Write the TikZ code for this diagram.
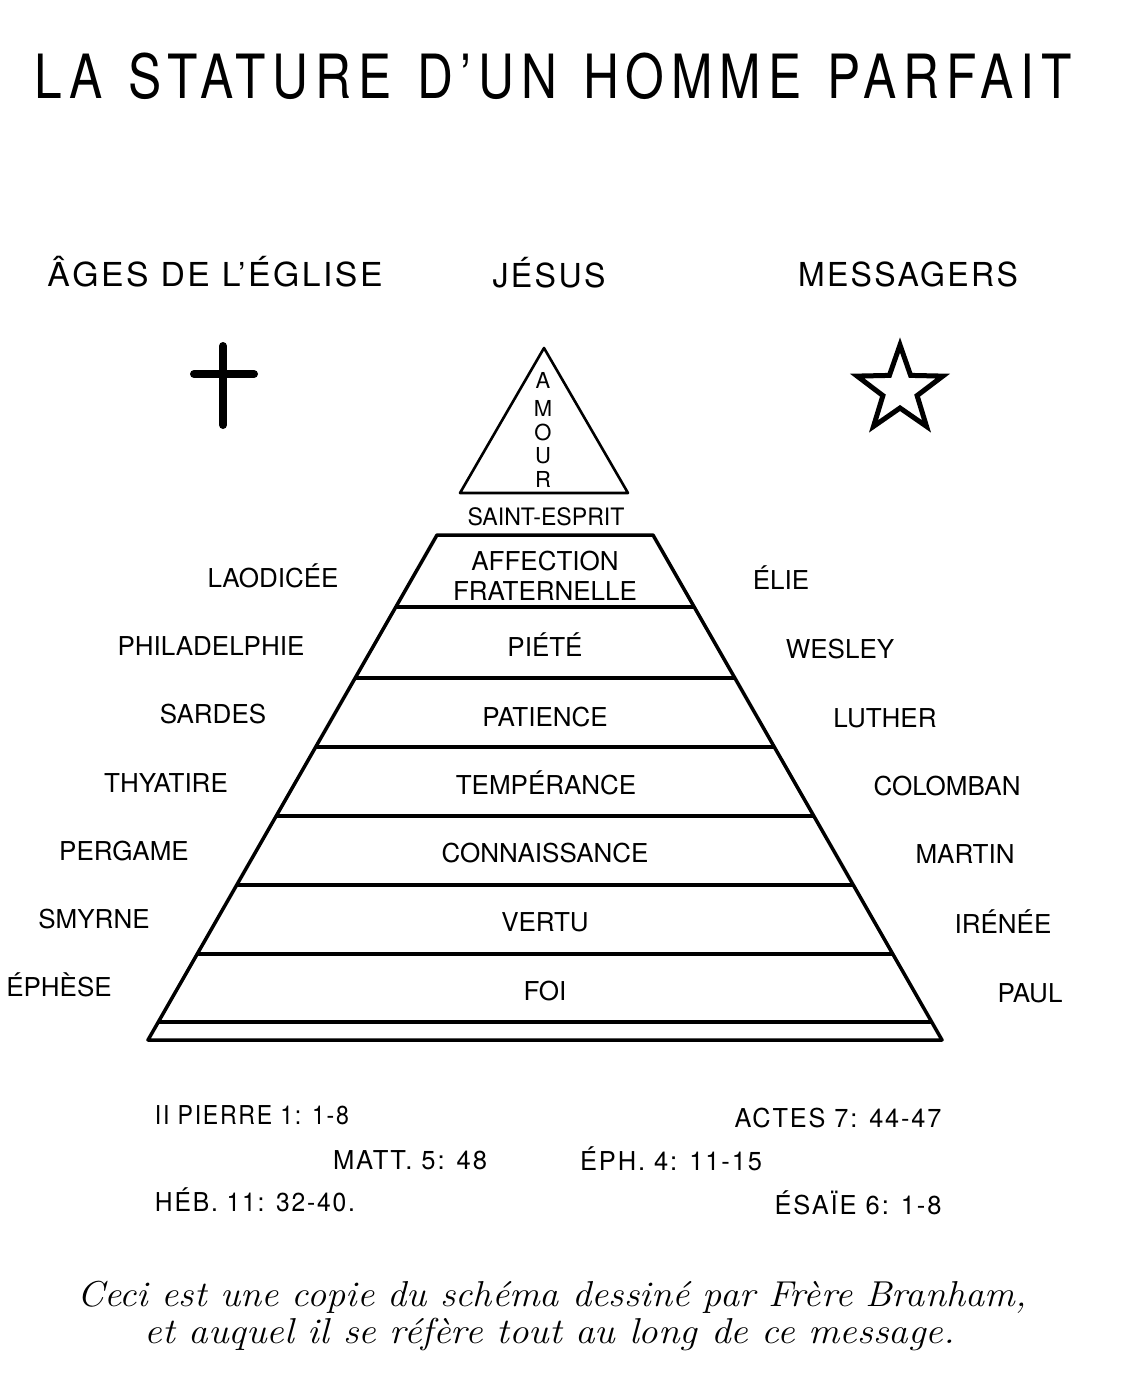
\documentclass[tikz,border=0pt]{standalone}
\usepackage{fontspec}
\usepackage{graphicx}
\usetikzlibrary{calc}
\newfontfamily\helv{TeX Gyre Heros}
\newfontfamily\helvw[LetterSpace=12,FakeStretch=0.86]{TeX Gyre Heros}
\newfontfamily\helvs[LetterSpace=7,FakeStretch=0.94]{TeX Gyre Heros}
\newcommand\fw[2]{\resizebox{#1pt}{\height}{#2}}
\newcommand\wsp{\hspace{0.45em}}
\begin{document}
\begin{tikzpicture}[x=1pt,y=-1pt,line join=round]
\useasboundingbox[fill=white] (0,0) rectangle (1126,1388);
\tikzset{
  txt/.style={anchor=base,inner sep=0pt,font=\helv\fontsize{26}{28}\selectfont},
  reftxt/.style={anchor=base,inner sep=0pt,font=\helvs\fontsize{26}{28}\selectfont},
  head/.style={anchor=base,inner sep=0pt,font=\helvs\fontsize{33}{36}\selectfont},
  amour/.style={anchor=base,inner sep=0pt,font=\helv\fontsize{22}{23}\selectfont},
  capt/.style={anchor=base,inner sep=0pt,font=\itshape\fontsize{36}{40}\selectfont},
  pyr/.style={line width=3.5pt},
  tri/.style={line width=2.6pt},
  crossline/.style={line width=8pt,line cap=round},
  starline/.style={line width=5pt,line join=miter}
}
% title
\node[anchor=base,inner sep=0pt,font=\helvw\fontsize{61}{64}\selectfont] (title) at (553,99) {\fw{1037}{LA\wsp STATURE\wsp D’UN\wsp HOMME\wsp PARFAIT}};
% headers
\node[head] (hage) at (215,287) {\fw{335}{ÂGES DE L’ÉGLISE}};
\node[head] (hjes) at (549,287) {\fw{113}{JÉSUS}};
\node[head] (hmes) at (908,287) {\fw{220}{MESSAGERS}};
% cross
\draw[crossline] (223,346) -- (223,425);
\draw[crossline] (194,374) -- (254,374);
% star
\draw[starline] (900,345) -- (910.6,375.4) -- (942.8,376.1) -- (917.1,395.6) -- (926.5,426.4) -- (900,408) -- (873.5,426.4) -- (882.9,395.6) -- (857.2,376.1) -- (889.4,375.4) -- cycle;
% small triangle
\coordinate (apex) at (544,348);
\coordinate (tbl) at (460,493);
\coordinate (tbr) at (628,493);
\draw[tri] (apex) -- (tbl) -- (tbr) -- cycle;
\node[amour] (a1) at (543,388) {A};
\node[amour] (a2) at (543,416) {M};
\node[amour] (a3) at (543,440) {O};
\node[amour] (a4) at (543,463) {U};
\node[amour] (a5) at (543,487) {R};
\node[txt,font=\helv\fontsize{24}{26}\selectfont] (se) at (546,525) {\fw{157}{SAINT-ESPRIT}};
% pyramid
\coordinate (TL) at (437,535);
\coordinate (TR) at (653,535);
\coordinate (BL) at (148,1040);
\coordinate (BR) at (942,1040);
\draw[pyr] (BL) -- (TL) -- (TR) -- (BR) -- cycle;
\foreach \r in {0.1426,0.2832,0.4198,0.5564,0.6931,0.8297,0.9644}
  \draw[pyr] ($(TL)!\r!(BL)$) -- ($(TR)!\r!(BR)$);
% virtues
\node[txt] (v1a) at (545,570) {AFFECTION};
\node[txt] (v1b) at (545,600) {FRATERNELLE};
\node[txt] (v2) at (545,656) {PIÉTÉ};
\node[txt] (v3) at (545,726) {PATIENCE};
\node[txt] (v4) at (546,794) {TEMPÉRANCE};
\node[txt] (v5) at (545,862) {CONNAISSANCE};
\node[txt] (v6) at (545,931) {VERTU};
\node[txt] (v7) at (545,1000) {FOI};
% church ages
\node[txt] (e7) at (273,587) {LAODICÉE};
\node[txt] (e6) at (211,655) {PHILADELPHIE};
\node[txt] (e5) at (213,723) {SARDES};
\node[txt] (e4) at (166,792) {THYATIRE};
\node[txt] (e3) at (124,860) {PERGAME};
\node[txt] (e2) at (94,928) {SMYRNE};
\node[txt] (e1) at (59,996) {ÉPHÈSE};
% messengers
\node[txt] (m7) at (781,589) {ÉLIE};
\node[txt] (m6) at (840,658) {WESLEY};
\node[txt] (m5) at (885,727) {LUTHER};
\node[txt] (m4) at (947,795) {COLOMBAN};
\node[txt] (m3) at (965,863) {MARTIN};
\node[txt] (m2) at (1003,933) {IRÉNÉE};
\node[txt] (m1) at (1030,1002) {PAUL};
% references
\node[reftxt] (r1) at (252,1124) {\fw{194}{II PIERRE 1: 1-8}};
\node[reftxt] (r2) at (838,1127) {\fw{207}{ACTES 7: 44-47}};
\node[reftxt] (r3) at (410,1169) {\fw{154}{MATT. 5: 48}};
\node[reftxt] (r4) at (671,1170) {\fw{182}{ÉPH. 4: 11-15}};
\node[reftxt] (r5) at (255,1211) {\fw{200}{HÉB. 11: 32-40.}};
\node[reftxt] (r6) at (858,1214) {\fw{167}{ÉSAÏE 6: 1-8}};
% caption
\node[capt] (c1) at (552,1306) {\fw{949}{Ceci est une copie du schéma dessiné par Frère Branham,}};
\node[capt] (c2) at (550,1343) {\fw{810}{et auquel il se réfère tout au long de ce message.}};
\end{tikzpicture}
\end{document}
